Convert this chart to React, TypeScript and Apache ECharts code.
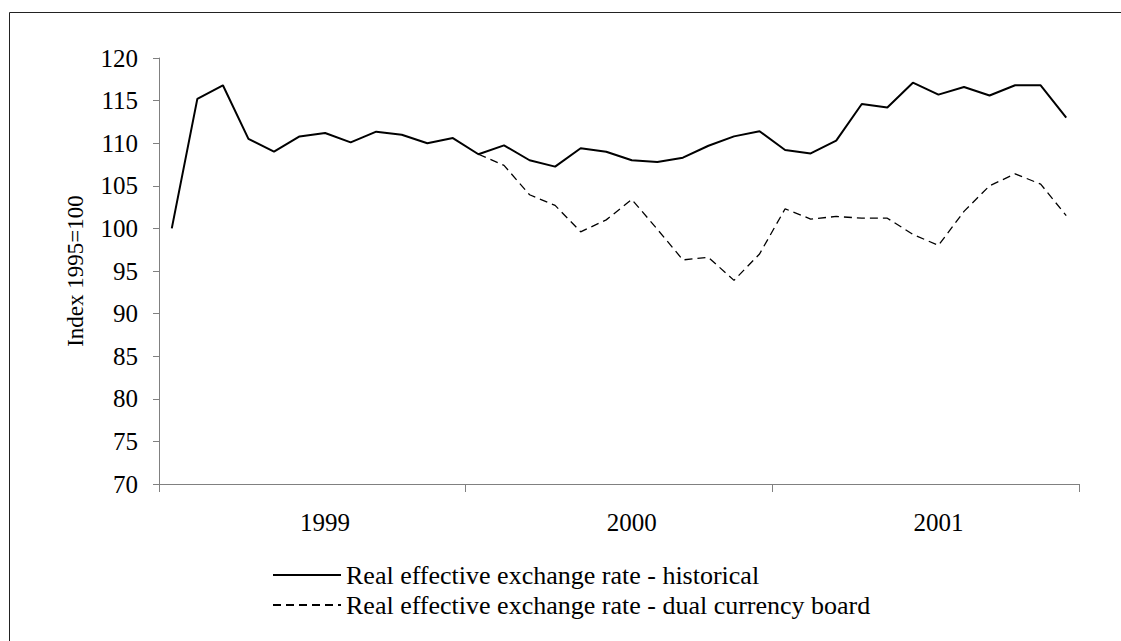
import React, { useEffect, useRef } from "react";
import * as echarts from "echarts";

const years = ["1999", "2000", "2001"];
const monthNames = ["Jan", "Feb", "Mar", "Apr", "May", "Jun", "Jul", "Aug", "Sep", "Oct", "Nov", "Dec"];
const categories = years.flatMap((y) => monthNames.map((m) => `${m} ${y}`));

const historical = [
  100, 115.2, 116.8, 110.5, 109.0, 110.8, 111.2, 110.1, 111.35, 111.0, 110.0, 110.6,
  108.7, 109.75, 108.0, 107.25, 109.4, 109.0, 108.0, 107.8, 108.3, 109.7, 110.8, 111.4,
  109.2, 108.8, 110.3, 114.6, 114.2, 117.1, 115.7, 116.6, 115.6, 116.8, 116.8, 113.0,
];

const dualBoard = [
  null, null, null, null, null, null, null, null, null, null, null, null,
  108.7, 107.4, 103.95, 102.7, 99.6, 101.0, 103.4, 99.9, 96.3, 96.6, 93.9, 97.0,
  102.3, 101.1, 101.4, 101.2, 101.2, 99.3, 98.0, 102.0, 105.0, 106.4, 105.2, 101.5,
];

const seriesNames = [
  "Real effective exchange rate - historical",
  "Real effective exchange rate - dual currency board",
];

const yAxisName = "Index 1995=100";
const FONT = "Liberation Serif";

export default function App() {
  const ref = useRef<HTMLDivElement>(null);
  useEffect(() => {
    if (!ref.current) return;
    const chart = echarts.init(ref.current, undefined, { renderer: "svg" });
    chart.setOption({
      animation: false,
      backgroundColor: "#fff",
      textStyle: { fontFamily: FONT, color: "#000" },
      graphic: [
        {
          type: "line",
          shape: { x1: 9.5, y1: 12.5, x2: 1121, y2: 12.5 },
          style: { stroke: "#222", lineWidth: 1 },
          silent: true,
        },
        {
          type: "line",
          shape: { x1: 9.5, y1: 12.5, x2: 9.5, y2: 641 },
          style: { stroke: "#222", lineWidth: 1 },
          silent: true,
        },
      ],
      grid: { left: 159, right: 42, top: 58, bottom: 157, containLabel: false },
      xAxis: {
        type: "category",
        data: categories,
        boundaryGap: true,
        axisLine: { lineStyle: { color: "#808080", width: 1 } },
        axisTick: {
          show: true,
          length: 8,
          interval: (i: number) => i % 12 === 0,
          lineStyle: { color: "#808080" },
        },
        axisLabel: {
          interval: (i: number) => i % 12 === 6,
          formatter: (v: string) => v.split(" ")[1],
          fontFamily: FONT,
          fontSize: 25,
          color: "#000",
          margin: 26,
        },
        splitLine: { show: false },
      },
      yAxis: {
        type: "value",
        min: 70,
        max: 120,
        interval: 5,
        name: yAxisName,
        nameLocation: "middle",
        nameRotate: 90,
        nameGap: 72,
        nameTextStyle: { fontFamily: FONT, fontSize: 23, color: "#000" },
        axisLine: { show: true, lineStyle: { color: "#808080", width: 1 } },
        axisTick: { show: true, length: 6, lineStyle: { color: "#808080" } },
        axisLabel: { fontFamily: FONT, fontSize: 25, color: "#000", margin: 21 },
        splitLine: { show: false },
      },
      legend: {
        orient: "vertical",
        left: 272,
        top: 562,
        padding: 0,
        itemWidth: 68,
        itemHeight: 14,
        itemGap: 4,
        itemStyle: { opacity: 0 },
        textStyle: { fontFamily: FONT, fontSize: 26, color: "#000" },
        data: seriesNames,
      },
      series: [
        {
          name: seriesNames[0],
          type: "line",
          data: historical,
          symbol: "none",
          showSymbol: false,
          lineStyle: { color: "#000", width: 2 },
          itemStyle: { color: "#000" },
        },
        {
          name: seriesNames[1],
          type: "line",
          data: dualBoard,
          symbol: "none",
          showSymbol: false,
          connectNulls: false,
          lineStyle: { color: "#000", width: 1.3, type: [8, 5] },
          itemStyle: { color: "#000" },
        },
      ],
    });
    return () => chart.dispose();
  }, []);
  return (
    <div
      ref={ref}
      style={{ position: "absolute", left: 0, top: 0, width: 1121, height: 641 }}
    />
  );
}
